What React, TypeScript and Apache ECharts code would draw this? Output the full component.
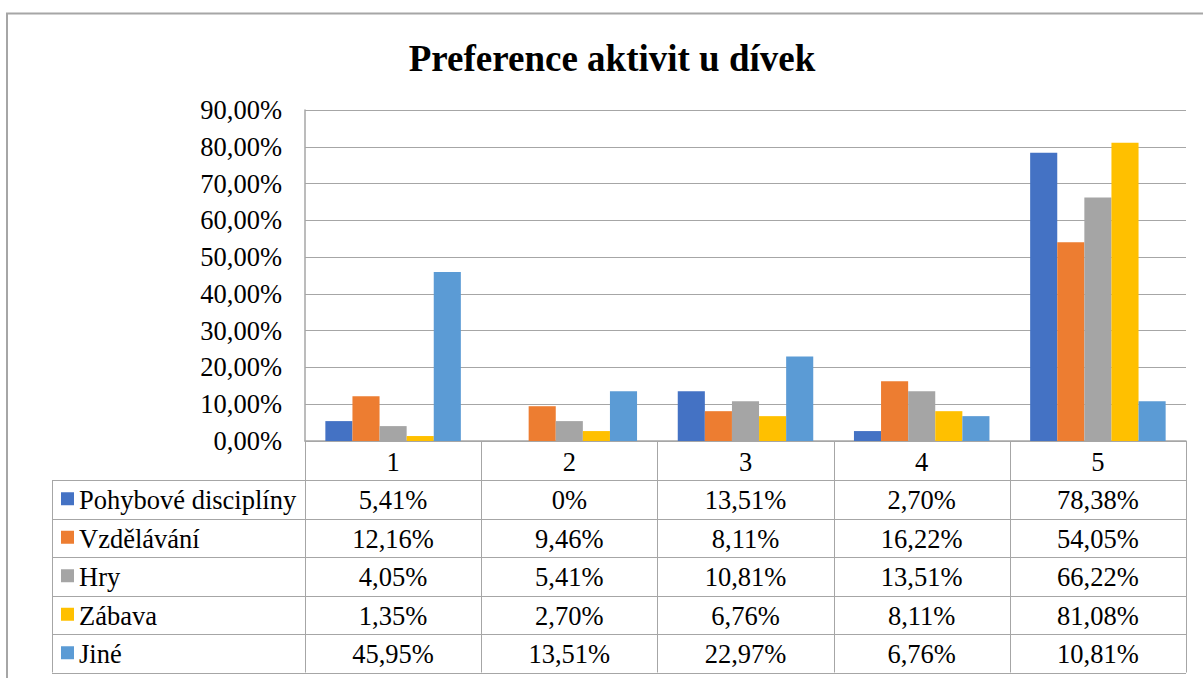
import React, { useEffect, useRef } from "react";
import * as echarts from "echarts";

const titleText = "Preference aktivit u dívek";
const categories = ["1", "2", "3", "4", "5"];
const seriesNames = ["Pohybové disciplíny", "Vzdělávání", "Hry", "Zábava", "Jiné"];
const pohyboveDiscipliny = [5.41, 0, 13.51, 2.7, 78.38];
const vzdelavani = [12.16, 9.46, 8.11, 16.22, 54.05];
const hry = [4.05, 5.41, 10.81, 13.51, 66.22];
const zabava = [1.35, 2.7, 6.76, 8.11, 81.08];
const jine = [45.95, 13.51, 22.97, 6.76, 10.81];
const seriesColors = ["#4472C4", "#ED7D31", "#A5A5A5", "#FFC000", "#5B9BD5"];
const yMin = 0;
const yMax = 90;
const yInterval = 10;

const allSeries = [pohyboveDiscipliny, vzdelavani, hry, zabava, jine];

const FONT = "Liberation Serif";
const W = 1203;
const H = 678;
const plotLeft = 305;
const plotRight = 1186;
const plotTop = 110;
const plotBottom = 441;
const headerBottom = 480;
const rowH = 38.5;
const tableLeft = 52;
const fs = 26.5;
const lineColor = "#a6a6a6";

const fmtPct = (v: number) => (v === 0 ? "0%" : v.toFixed(2).replace(".", ",") + "%");

export default function App() {
  const ref = useRef<HTMLDivElement>(null);
  useEffect(() => {
    if (!ref.current) return;
    const chart = echarts.init(ref.current, null, { renderer: "svg" });
    const colW = (plotRight - plotLeft) / categories.length;
    const tableBottom = headerBottom + rowH * seriesNames.length;
    const g: any[] = [];
    const hline = (x1: number, x2: number, y: number) =>
      g.push({ type: "line", z: 10, shape: { x1, y1: y, x2, y2: y }, style: { stroke: lineColor, lineWidth: 1 } });
    const vline = (x: number, y1: number, y2: number) =>
      g.push({ type: "line", z: 10, shape: { x1: x, y1, x2: x, y2 }, style: { stroke: lineColor, lineWidth: 1 } });
    const txt = (text: string, x: number, y: number, align: string, size = fs, weight = "normal") => ({
      type: "text",
      z: 11,
      style: { text, x, y, align, verticalAlign: "middle", fontFamily: FONT, fontSize: size, fontWeight: weight, fill: "#000" },
    });

    // outer border
    g.push({ type: "rect", z: 0, shape: { x: 7, y: 13.5, width: 1400, height: 900 }, style: { fill: "none", stroke: "#a6a6a6", lineWidth: 2 } });

    // title
    g.push(txt(titleText, 612, 58, "center", 37, "bold"));

    // table horizontal lines
    for (let i = 0; i <= seriesNames.length; i++) {
      hline(tableLeft, plotRight, Math.round(headerBottom + i * rowH) + 0.5);
    }
    // vertical lines
    vline(tableLeft + 0.5, headerBottom, tableBottom);
    for (let c = 0; c <= categories.length; c++) {
      vline(Math.round(plotLeft + c * colW) + 0.5, plotBottom, tableBottom);
    }
    // header labels
    categories.forEach((cat, c) => {
      g.push(txt(cat, plotLeft + (c + 0.5) * colW, (plotBottom + headerBottom) / 2 + 1, "center"));
    });
    // rows
    seriesNames.forEach((name, r) => {
      const cy = headerBottom + (r + 0.5) * rowH;
      g.push({ type: "rect", z: 11, shape: { x: 61, y: cy - 7, width: 13, height: 13 }, style: { fill: seriesColors[r] } });
      g.push(txt(name, 79, cy + 1, "left"));
      allSeries[r].forEach((v, c) => {
        g.push(txt(fmtPct(v), plotLeft + (c + 0.5) * colW, cy + 1, "center"));
      });
    });

    chart.setOption({
      animation: false,
      backgroundColor: "#fff",
      grid: { left: plotLeft, right: W - plotRight, top: plotTop, bottom: H - plotBottom, containLabel: false },
      xAxis: {
        type: "category",
        data: categories,
        axisLine: { show: true, lineStyle: { color: lineColor, width: 1.5 } },
        axisTick: { show: false },
        axisLabel: { show: false },
        splitLine: { show: false },
      },
      yAxis: {
        type: "value",
        min: yMin,
        max: yMax,
        interval: yInterval,
        axisLine: { show: true, lineStyle: { color: lineColor, width: 1.5 } },
        axisTick: { show: false },
        axisLabel: {
          formatter: (v: number) => v.toFixed(2).replace(".", ",") + "%",
          fontFamily: FONT,
          fontSize: fs,
          color: "#000",
          margin: 23,
        },
        splitLine: { show: true, lineStyle: { color: lineColor, width: 1 } },
      },
      series: seriesNames.map((name, i) => ({
        name,
        type: "bar",
        data: allSeries[i],
        itemStyle: { color: seriesColors[i] },
        barGap: "0%",
        barCategoryGap: "23.1%",
      })),
      graphic: g,
    });
    return () => chart.dispose();
  }, []);
  return <div ref={ref} style={{ position: "fixed", left: 0, top: 0, width: W, height: H }} />;
}
